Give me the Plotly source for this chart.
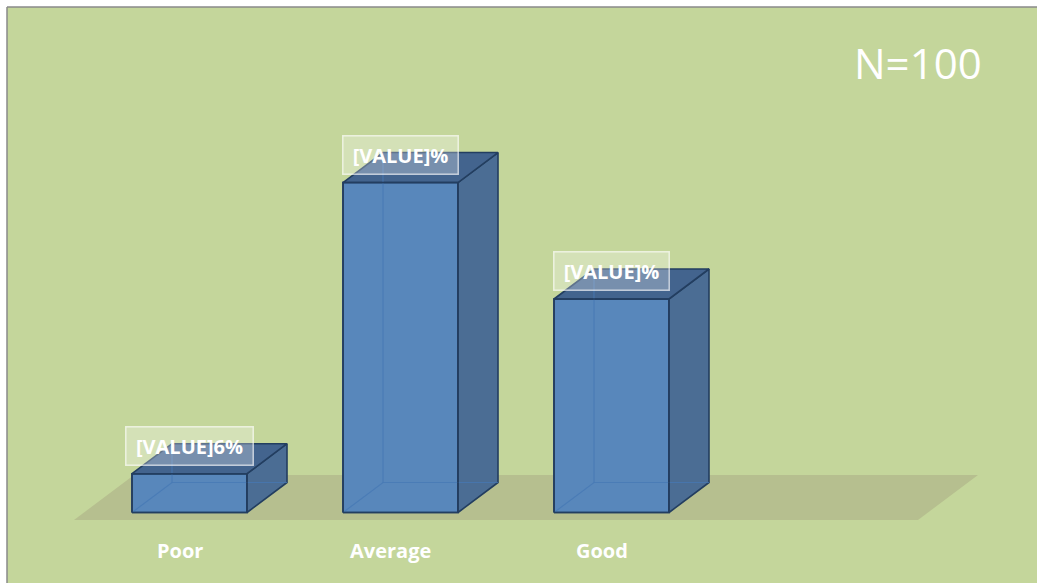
import plotly.graph_objects as go

# ---- data ----
categories = ["Poor", "Average", "Good", ""]
values = [6, 51, 33]
value_labels = ["[VALUE]6%", "[VALUE]%", "[VALUE]%"]
note_text = "N=100"

# ---- style / geometry constants ----
W, H = 1037, 583
BG = "#c4d69b"
FLOOR = "#b6bf8f"
FRONT = "#5887bb"
SIDE = "#4b6d94"
TOP = "#43648e"
EDGE = "#233e60"
HIDDEN = "rgba(70,120,180,0.75)"

PX_PER_CAT = 211.0
PX_PER_UNIT = 6.47
DX = 60 / PX_PER_CAT      # x shift (data units) for full depth
DY = 45 / PX_PER_UNIT     # y shift (data units) for full depth
D0, D1 = 1 / 6, 5 / 6     # bar depth span inside floor
BAR_W = 115 / PX_PER_CAT

# plot area = panel (px 7..1037, 7..583); floor front-left at px (74, 520)
ML, MT = 7, 7
FL_X, FL_Y = 74, 520
x_range = [-0.5 - (FL_X - ML) / PX_PER_CAT, -0.5 + (W - FL_X) / PX_PER_CAT]
y_range = [-(H - FL_Y) / PX_PER_UNIT, (FL_Y - MT) / PX_PER_UNIT]

fig = go.Figure()


def poly(xs, ys, fill, line_color, line_width):
    fig.add_trace(go.Scatter(
        x=xs + [xs[0]], y=ys + [ys[0]], mode="lines", fill="toself",
        fillcolor=fill, line=dict(color=line_color, width=line_width),
        hoverinfo="skip", showlegend=False))


def seg(xs, ys, color, width):
    fig.add_trace(go.Scatter(
        x=xs, y=ys, mode="lines", line=dict(color=color, width=width),
        hoverinfo="skip", showlegend=False))


# floor
n = len(categories)
fx0, fx1 = -0.5, n - 0.5
poly([fx0, fx1, fx1 + DX, fx0 + DX], [0, 0, DY, DY], FLOOR, "rgba(0,0,0,0)", 0)

ddx = DX * (D1 - D0)
ddy = DY * (D1 - D0)
for i, v in enumerate(values):
    cx = i + DX * D0
    xl, xr = cx - BAR_W / 2, cx + BAR_W / 2
    yb = DY * D0
    yt = yb + v
    # faces
    poly([xl, xr, xr, xl], [yb, yb, yt, yt], FRONT, EDGE, 1.6)
    poly([xr, xr + ddx, xr + ddx, xr], [yb, yb + ddy, yt + ddy, yt], SIDE, EDGE, 1.6)
    poly([xl, xr, xr + ddx, xl + ddx], [yt, yt, yt + ddy, yt + ddy], TOP, EDGE, 1.6)
    # hidden edges seen through the glassy bar
    seg([xl + ddx, xl + ddx], [yb + ddy, yt + ddy], HIDDEN, 1.2)
    seg([xl, xl + ddx, xr + ddx], [yb, yb + ddy, yb + ddy], HIDDEN, 1.2)
    # redraw front outline on top
    seg([xl, xr, xr, xl, xl], [yb, yb, yt, yt, yb], EDGE, 1.6)

annotations = []
# category labels
for i, c in enumerate(categories):
    if c:
        annotations.append(dict(
            x=i, y=0, xref="x", yref="y", text=f"<b>{c}</b>", showarrow=False,
            yanchor="middle", yshift=-30,
            font=dict(family="Open Sans", size=20, color="white")))
# value labels
for i, (v, t) in enumerate(zip(values, value_labels)):
    cx = i + DX * D0
    yt = DY * D0 + v
    annotations.append(dict(
        x=cx, y=yt, xref="x", yref="y", text=f"<b>{t}</b>", showarrow=False,
        yanchor="bottom", yshift=8, align="center",
        width=118 if "6" in t else 106, height=29, borderpad=4,
        bgcolor="rgba(255,255,255,0.28)", bordercolor="rgba(255,255,255,0.65)",
        borderwidth=1.5,
        font=dict(family="Open Sans", size=20, color="white")))
# N note
annotations.append(dict(
    x=(918 - ML) / (W - ML), y=(H - 63) / (H - MT), xref="paper", yref="paper",
    text=note_text, showarrow=False, xanchor="center", yanchor="middle",
    font=dict(family="Open Sans", size=42, color="white")))

fig.update_layout(
    width=W, height=H,
    margin=dict(l=ML, r=0, t=MT, b=0, pad=0),
    paper_bgcolor="white", plot_bgcolor=BG,
    xaxis=dict(range=x_range, visible=False, fixedrange=True),
    yaxis=dict(range=y_range, visible=False, fixedrange=True),
    annotations=annotations,
    shapes=[
        dict(type="line", xref="paper", yref="paper", x0=0, x1=0, y0=0, y1=1,
             line=dict(color="#8a8a8a", width=1.5)),
        dict(type="line", xref="paper", yref="paper", x0=0, x1=1, y0=1, y1=1,
             line=dict(color="#8a8a8a", width=1.5)),
    ],
)

fig.write_html("out.html", config={"displayModeBar": False})
